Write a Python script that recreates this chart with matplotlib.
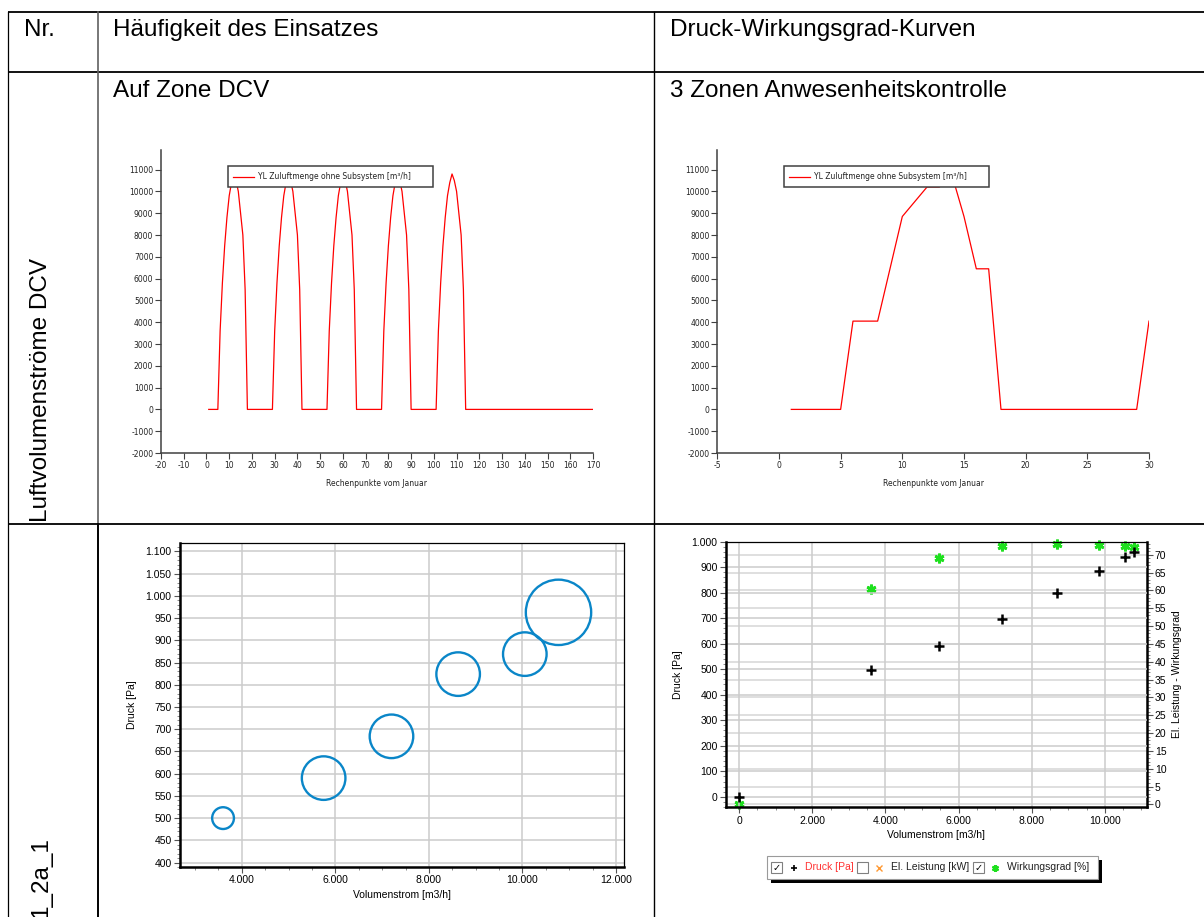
import numpy as np
import matplotlib.pyplot as plt
from matplotlib.patches import Rectangle
from matplotlib.ticker import MultipleLocator, FuncFormatter

plt.rcParams['font.family'] = ['Liberation Sans', 'DejaVu Sans']
plt.rcParams['axes.unicode_minus'] = False

W, H = 1204, 917

# --- Daten ---
# Auf Zone DCV: Zuluftmenge je Rechenpunkt (Stunde) [m3/h]
montag = [0, 0, 0, 0, 0, 3600, 5800, 7500, 8800, 9800, 10400, 10800,
          10500, 10000, 9000, 8000, 5500, 0, 0, 0, 0, 0, 0, 0]
dienstag = [0, 0, 0, 0, 0, 3600, 5800, 7500, 8800, 9800, 10400, 10800,
            10500, 10000, 9000, 8000, 5500, 0, 0, 0, 0, 0, 0, 0]
mittwoch = [0, 0, 0, 0, 0, 3600, 5800, 7500, 8800, 9800, 10400, 10800,
            10500, 10000, 9000, 8000, 5500, 0, 0, 0, 0, 0, 0, 0]
donnerstag = [0, 0, 0, 0, 0, 3600, 5800, 7500, 8800, 9800, 10400, 10800,
              10500, 10000, 9000, 8000, 5500, 0, 0, 0, 0, 0, 0, 0]
freitag = [0, 0, 0, 0, 0, 3600, 5800, 7500, 8800, 9800, 10400, 10800,
           10500, 10000, 9000, 8000, 5500, 0, 0, 0, 0, 0, 0, 0]
samstag = [0] * 24
sonntag = [0] * 24
rest = [0, 0]
zuluft_dcv = montag + dienstag + mittwoch + donnerstag + freitag + samstag + sonntag + rest
rechenpunkte = np.arange(1, len(zuluft_dcv) + 1)

# 3 Zonen Anwesenheitskontrolle: Tageswerte
tage = list(range(1, 31))
zuluft_3zonen = [0, 0, 0, 0, 0, 4050, 4050, 4050, 6450, 8850, 9525, 10200,
                 10200, 10800, 8850, 6450, 6450, 0, 0, 0, 0, 0, 0, 0,
                 0, 0, 0, 0, 0, 4050]

# Blasendiagramm Betriebspunkte
vol_blase = [3600, 5750, 7200, 8625, 10050, 10770]
druck_blase = [500, 590, 684, 824, 869, 963]
haeufigkeit = [1, 4, 4, 4, 4, 9]

# Ventilatorkennlinie
vol_kennlinie = [0, 3615, 5474, 7192, 8700, 9839, 10550, 10797]
druck_kennlinie = [0, 496, 591, 696, 800, 883, 939, 958]
wirkungsgrad = [0, 60.3, 69.0, 72.4, 72.9, 72.7, 72.4, 72.1]

legende_oben = "YL Zuluftmenge ohne Subsystem [m³/h]"


def rect(l, t, r, b):
    return [l / W, 1 - b / H, (r - l) / W, (b - t) / H]


de = FuncFormatter(lambda v, p: f"{v:,.0f}".replace(",", "."))

fig = plt.figure(figsize=(W / 100, H / 100), dpi=100)

# --- obere Diagramme ---
oben = [(rect(161, 150, 593, 453), rechenpunkte, zuluft_dcv, (-20, 170), range(-20, 171, 10)),
        (rect(717.3, 150, 1149, 453), tage, zuluft_3zonen, (-5, 30), range(-5, 31, 5))]
for pos, xs, ys, xlim, xt in oben:
    ax = fig.add_axes(pos)
    ax.plot(xs, ys, color='red', lw=0.9)
    ax.set_xlim(*xlim)
    ax.set_ylim(-2000, 11900)
    ax.set_xticks(list(xt))
    ax.set_yticks(range(-2000, 11001, 1000))
    for s in ['top', 'right']:
        ax.spines[s].set_visible(False)
    for s in ['left', 'bottom']:
        ax.spines[s].set_color('#404040')
        ax.spines[s].set_linewidth(1.1)
    ax.tick_params(labelsize=5.5, length=4, width=0.8, color='#404040', pad=1.5,
                   labelfontfamily='DejaVu Sans', labelcolor='#222222')
    ax.set_xlabel("Rechenpunkte vom Januar", fontsize=5.5, family='DejaVu Sans',
                  labelpad=7, color='#222222')
    ax.patch.set_alpha(0)

# --- Blasendiagramm ---
ax3 = fig.add_axes(rect(180, 543, 624, 867))
ax3.scatter(vol_blase, druck_blase, s=[246 * h for h in haeufigkeit],
            facecolors='none', edgecolors='#0a86c8', linewidths=1.7, zorder=3)
ax3.set_xlim(2680, 12170)
ax3.set_ylim(390, 1119)
ax3.xaxis.set_major_locator(MultipleLocator(2000))
ax3.xaxis.set_minor_locator(MultipleLocator(500))
ax3.yaxis.set_major_locator(MultipleLocator(50))
ax3.yaxis.set_minor_locator(MultipleLocator(10))
ax3.xaxis.set_major_formatter(de)
ax3.yaxis.set_major_formatter(de)
ax3.set_axisbelow(True)
ax3.grid(True, which='major', color='#cccccc', lw=1.1)
ax3.tick_params(labelsize=7.5, length=4, width=0.8, color='#555555', pad=2)
ax3.tick_params(which='minor', length=2, width=0.6, color='#777777')
ax3.set_xlabel("Volumenstrom [m3/h]", fontsize=7.5, labelpad=3)
ax3.set_ylabel("Druck [Pa]", fontsize=7.5, labelpad=6)
for s in ['left', 'bottom']:
    ax3.spines[s].set_linewidth(1.8)
for s in ['top', 'right']:
    ax3.spines[s].set_linewidth(0.9)

# --- Druck-Wirkungsgrad-Kurven ---
ax4 = fig.add_axes(rect(726, 541.5, 1146.5, 807.3))
ax4r = ax4.twinx()
ax4.set_zorder(ax4r.get_zorder() + 1)
ax4.patch.set_visible(False)

ax4r.plot(vol_kennlinie, wirkungsgrad, ls='none', marker=(6, 2, 0), ms=7, mew=2.0,
          color='#1ee01e', clip_on=False, zorder=3)
ax4.plot(vol_kennlinie, druck_kennlinie, ls='none', marker='+', ms=7, mew=1.8,
         color='black', clip_on=False, zorder=4)

ax4.set_xlim(-358, 11140)
ax4.set_ylim(-41, 1000)
ax4r.set_ylim(-0.8, 73.7)
ax4.xaxis.set_major_locator(MultipleLocator(2000))
ax4.xaxis.set_minor_locator(MultipleLocator(500))
ax4.yaxis.set_major_locator(MultipleLocator(100))
ax4.yaxis.set_minor_locator(MultipleLocator(20))
ax4r.yaxis.set_major_locator(MultipleLocator(5))
ax4r.yaxis.set_minor_locator(MultipleLocator(1))
ax4.xaxis.set_major_formatter(de)
ax4.yaxis.set_major_formatter(de)
ax4.grid(True, which='major', color='#cccccc', lw=1.1)
ax4r.grid(True, which='major', axis='y', color='#d6d6d6', lw=1.1)
ax4r.set_axisbelow(True)
for a in (ax4, ax4r):
    a.tick_params(labelsize=7.5, length=4, width=0.8, color='#555555', pad=2)
    a.tick_params(which='minor', length=2, width=0.6, color='#777777')
ax4.set_xlabel("Volumenstrom [m3/h]", fontsize=7.5, labelpad=3)
ax4.set_ylabel("Druck [Pa]", fontsize=7.5, labelpad=6)
ax4r.set_ylabel("El. Leistung - Wirkungsgrad", fontsize=7.5, labelpad=4)
for s in ['left', 'bottom']:
    ax4.spines[s].set_linewidth(1.8)
ax4.spines['top'].set_linewidth(0.9)
ax4.spines['right'].set_visible(False)
for s in ['left', 'top', 'bottom']:
    ax4r.spines[s].set_visible(False)
ax4r.spines['right'].set_linewidth(1.8)

# --- Tabelle und Legenden (Pixelkoordinaten) ---
ov = fig.add_axes([0, 0, 1, 1], zorder=10)
ov.set_xlim(0, W)
ov.set_ylim(H, 0)
ov.axis('off')
ov.patch.set_alpha(0)

for y in (12, 72, 524):
    ov.plot([8, W], [y, y], color='black', lw=1.3, solid_capstyle='butt')
ov.plot([8, 8], [12, H], color='black', lw=0.9)
ov.plot([98, 98], [12, 524], color='#606060', lw=1.2)
ov.plot([98, 98], [524, H], color='black', lw=1.4)
ov.plot([654, 654], [12, H], color='black', lw=1.0)

kopf = dict(fontsize=17.5, va='baseline', ha='left', color='black')
ov.text(24, 36, "Nr.", **kopf)
ov.text(113, 36, "Häufigkeit des Einsatzes", **kopf)
ov.text(670, 36, "Druck-Wirkungsgrad-Kurven", **kopf)
ov.text(113, 97, "Auf Zone DCV", **kopf)
ov.text(670, 97, "3 Zonen Anwesenheitskontrolle", **kopf)
ov.text(41, 522, "Luftvolumenströme DCV", fontsize=17.5, rotation=90,
        ha='center', va='bottom')
ov.text(41, 918, "1_2a_1", fontsize=17.5, rotation=90, ha='center', va='bottom')

# Legenden der oberen Diagramme
for lx in (228, 784):
    ov.add_patch(Rectangle((lx, 166), 205, 21, facecolor='white',
                           edgecolor='#404040', lw=1.1))
    ov.plot([lx + 5, lx + 26], [176.5, 176.5], color='red', lw=0.9)
    ov.text(lx + 30, 176.5, legende_oben, fontsize=5.5, family='DejaVu Sans',
            va='center', ha='left', color='#222222')

# Legende Kennlinie
ov.add_patch(Rectangle((771, 859.5), 331, 23, facecolor='black', edgecolor='none'))
ov.add_patch(Rectangle((767, 855.5), 331, 23, facecolor='white',
                       edgecolor='#9a9a9a', lw=0.8))
for bx, haken in ((771, True), (857, False), (973, True)):
    ov.add_patch(Rectangle((bx, 862), 10.5, 10.5, facecolor='white',
                           edgecolor='#808080', lw=0.8))
    if haken:
        ov.text(bx + 5.2, 867.5, "✓", fontsize=7, family='DejaVu Sans',
                ha='center', va='center')
ov.plot(793.6, 867.5, marker='+', color='black', ms=5, mew=1.2)
ov.plot(879, 867.5, marker='x', color='#ff9933', ms=4.5, mew=1.0)
ov.plot(995, 867.5, marker=(6, 2, 0), color='#1ee01e', ms=5, mew=1.6)
ov.text(804.7, 867.5, "Druck [Pa]", fontsize=7.5, color='#ff3333', va='center')
ov.text(890.7, 867.5, "El. Leistung [kW]", fontsize=7.5, color='#222222', va='center')
ov.text(1007, 867.5, "Wirkungsgrad [%]", fontsize=7.5, color='#222222', va='center')

fig.savefig("out.png", dpi=100)
